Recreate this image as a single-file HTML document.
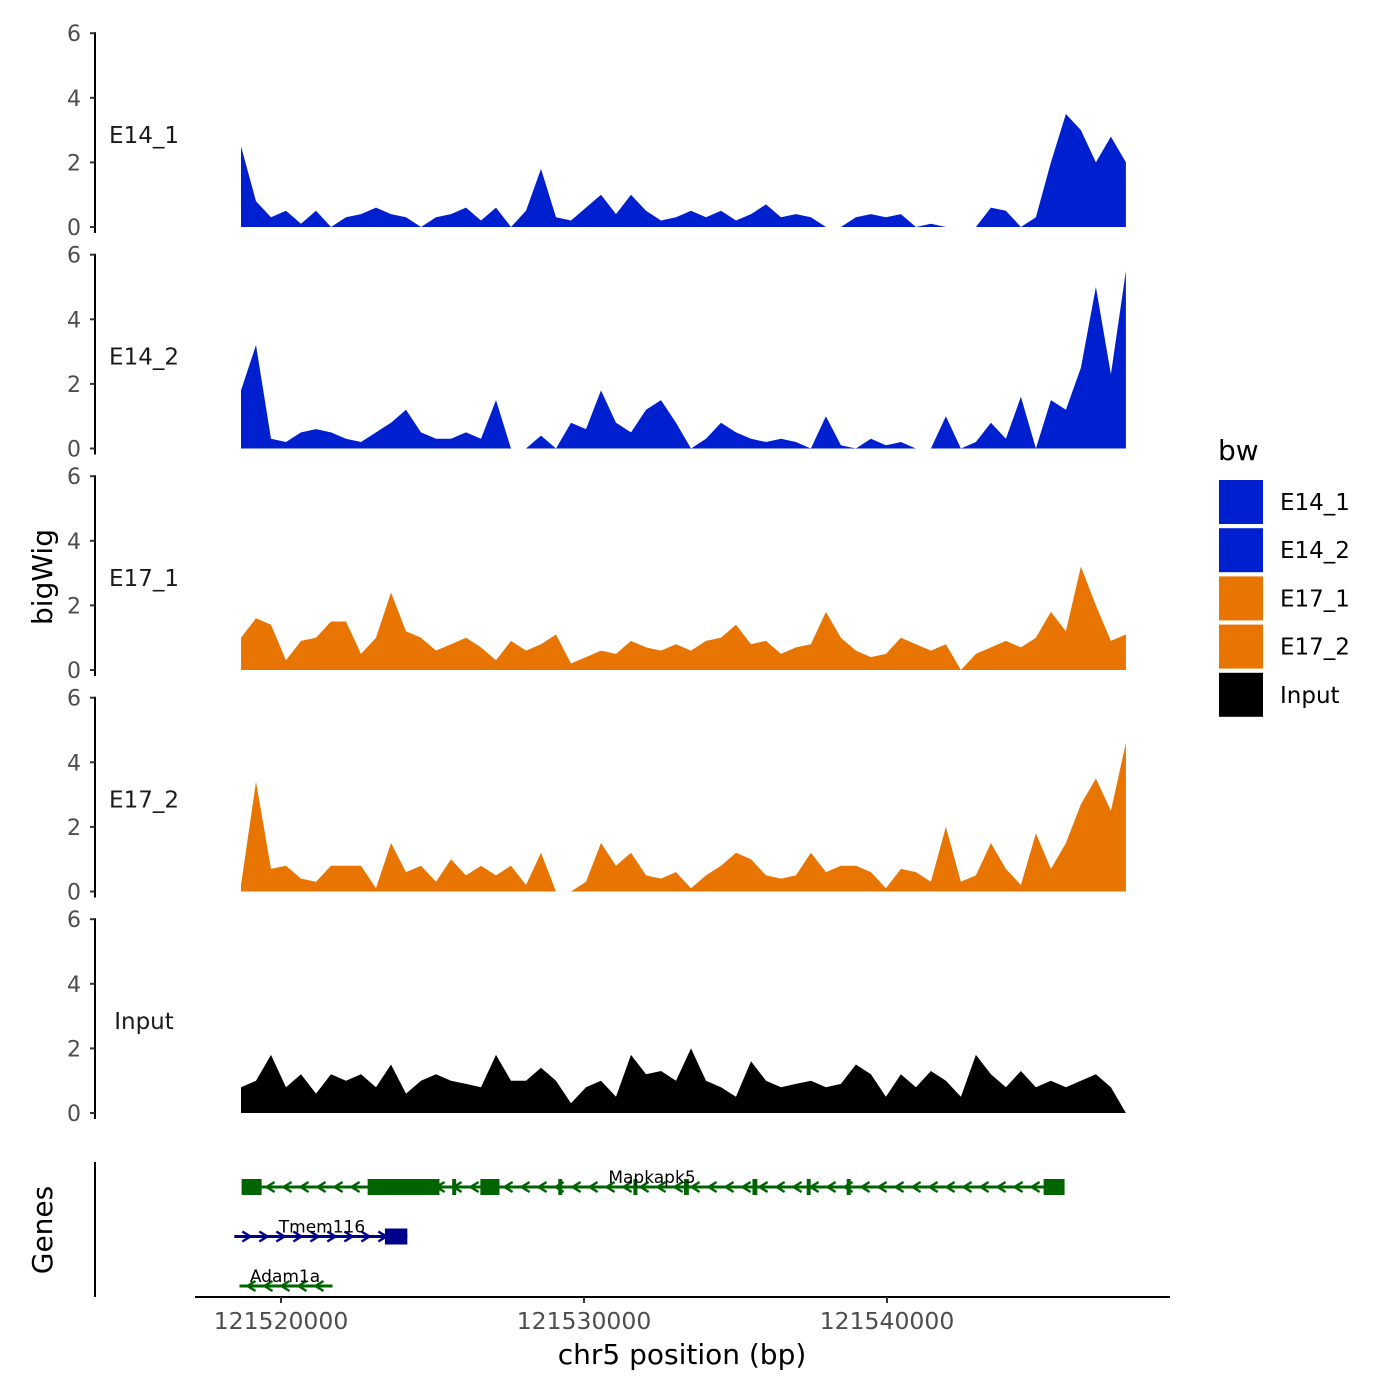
<!DOCTYPE html>
<html><head><meta charset="utf-8">
<style>
html,body{margin:0;padding:0;background:#fff;}
svg{display:block;font-family:"DejaVu Sans","Liberation Sans",sans-serif;}
</style></head>
<body>
<svg id="chart" width="1400" height="1400" viewBox="0 0 1400 1400" xmlns="http://www.w3.org/2000/svg">
<rect width="1400" height="1400" fill="#fff"/>
<g id="tracks"></g>
<g id="genes"></g>
<text x="52" y="577" font-size="28" text-anchor="middle" transform="rotate(-90 52 577)">bigWig</text>
<text x="52" y="1230" font-size="28" text-anchor="middle" transform="rotate(-90 52 1230)">Genes</text>
<line x1="95" y1="1162" x2="95" y2="1297" stroke="#000" stroke-width="2"/>
<line x1="195" y1="1297" x2="1170" y2="1297" stroke="#000" stroke-width="2"/>
<g id="xticks"></g>
<text x="682" y="1364" font-size="28" text-anchor="middle">chr5 position (bp)</text>
<g id="legend">
<text x="1218" y="460" font-size="28">bw</text>
</g>
</svg>
<script>
const trackNames = ["E14_1","E14_2","E17_1","E17_2","Input"];
const trackColors = ["#0020d0","#0020d0","#e87502","#e87502","#000000"];
const startBp = 121518680;
const stepBp = 495;
const e14_1 = [2.5,0.8,0.3,0.5,0.1,0.5,0,0.3,0.4,0.6,0.4,0.3,0,0.3,0.4,0.6,0.2,0.6,0,0.5,1.8,0.3,0.2,0.6,1.0,0.4,1.0,0.5,0.2,0.3,0.5,0.3,0.5,0.2,0.4,0.7,0.3,0.4,0.3,0,0,0.3,0.4,0.3,0.4,0,0.1,0,0,0,0.6,0.5,0,0.3,2.0,3.5,3.0,2.0,2.8,2.0];
const e14_2 = [1.8,3.2,0.3,0.2,0.5,0.6,0.5,0.3,0.2,0.5,0.8,1.2,0.5,0.3,0.3,0.5,0.3,1.5,0,0,0.4,0,0.8,0.6,1.8,0.8,0.5,1.2,1.5,0.8,0,0.3,0.8,0.5,0.3,0.2,0.3,0.2,0,1.0,0.1,0,0.3,0.1,0.2,0,0,1.0,0,0.2,0.8,0.3,1.6,0,1.5,1.2,2.5,5.0,2.3,5.5];
const e17_1 = [1.0,1.6,1.4,0.3,0.9,1.0,1.5,1.5,0.5,1.0,2.4,1.2,1.0,0.6,0.8,1.0,0.7,0.3,0.9,0.6,0.8,1.1,0.2,0.4,0.6,0.5,0.9,0.7,0.6,0.8,0.6,0.9,1.0,1.4,0.8,0.9,0.5,0.7,0.8,1.8,1.0,0.6,0.4,0.5,1.0,0.8,0.6,0.8,0,0.5,0.7,0.9,0.7,1.0,1.8,1.2,3.2,2.0,0.9,1.1];
const e17_2 = [0.2,3.4,0.7,0.8,0.4,0.3,0.8,0.8,0.8,0.1,1.5,0.6,0.8,0.3,1.0,0.5,0.8,0.5,0.8,0.2,1.2,0,0,0.3,1.5,0.8,1.2,0.5,0.4,0.6,0.1,0.5,0.8,1.2,1.0,0.5,0.4,0.5,1.2,0.6,0.8,0.8,0.6,0.1,0.7,0.6,0.3,2.0,0.3,0.5,1.5,0.7,0.2,1.8,0.7,1.5,2.7,3.5,2.5,4.6];
const input = [0.8,1.0,1.8,0.8,1.2,0.6,1.2,1.0,1.2,0.8,1.5,0.6,1.0,1.2,1.0,0.9,0.8,1.8,1.0,1.0,1.4,1.0,0.3,0.8,1.0,0.5,1.8,1.2,1.3,1.0,2.0,1.0,0.8,0.5,1.6,1.0,0.8,0.9,1.0,0.8,0.9,1.5,1.2,0.5,1.2,0.8,1.3,1.0,0.5,1.8,1.2,0.8,1.3,0.8,1.0,0.8,1.0,1.2,0.8,0];
const trackValues = [e14_1,e14_2,e17_1,e17_2,input];
const yTicks = [0,2,4,6];
const xTicks = [121520000,121530000,121540000];
const xTickLabels = ["121520000","121530000","121540000"];

const NS = "http://www.w3.org/2000/svg";
function mk(tag, attrs, parent){const e=document.createElementNS(NS,tag);for(const k in attrs)e.setAttribute(k,attrs[k]);parent.appendChild(e);return e;}
function xScale(bp){return 281 + (bp-121520000)*0.0303;}
function yScale(v, t){const zero = 227 + t*221.5;return zero - v*32.3;}

const tracksG = document.getElementById("tracks");
trackValues.forEach((vals, t) => {
  const g = mk("g", {}, tracksG);
  
  
  let d = "M" + xScale(startBp) + "," + yScale(0,t);
  vals.forEach((v,i) => { d += " L" + xScale(startBp + i*stepBp).toFixed(1) + "," + yScale(v,t).toFixed(1); });
  d += " L" + xScale(startBp + (vals.length-1)*stepBp).toFixed(1) + "," + yScale(0,t) + " Z";
  const p = mk("path", {d: d, fill: trackColors[t]}, g);
  
  
  const ax = mk("line", {x1:95, y1:yScale(6,t)-1, x2:95, y2:yScale(0,t)+6, stroke:"#000","stroke-width":2}, g);
  
  
  yTicks.forEach(tv => {
    const y = yScale(tv,t);
    const tk = mk("line", {x1:90, y1:y, x2:95, y2:y, stroke:"#333","stroke-width":2}, g);
    
    
    const lb = mk("text", {x:81, y:y+8, "font-size":22, fill:"#4d4d4d", "text-anchor":"end"}, g);
    lb.textContent = tv;
    
    
  });
  const tl = mk("text", {x:144, y:yScale(0,t)-84, "font-size":23, "text-anchor":"middle", fill:"#1a1a1a"}, g);
  tl.textContent = trackNames[t];
  
  
});

const xt = document.getElementById("xticks");
xTicks.forEach((bp,i) => {
  const x = xScale(bp);
  const l = mk("line", {x1:x, y1:1297, x2:x, y2:1303, stroke:"#333","stroke-width":2}, xt);
  
  
  const t = mk("text", {x:x, y:1329, "font-size":23.5, fill:"#4d4d4d", "text-anchor":"middle"}, xt);
  t.textContent = xTickLabels[i];
  
  
});

// Genes
const geneNames = ["Mapkapk5","Tmem116","Adam1a"];
const geneStarts = [121518700,121518460,121518630];
const geneEnds = [121545860,121524170,121521700];
const geneStrand = [-1,1,-1];
const geneColors = ["#006400","#00008b","#006400"];
const mapkExons = [[121518700,121519360],[121522860,121525230],[121526580,121527210],[121545170,121545860],[121525650,121525760],[121529150,121529230],[121531630,121531740],[121533300,121533460],[121535560,121535720],[121538670,121538760],[121537350,121537440]];
const tmemExons = [[121523430,121524170]];
const adamExons = [];
const geneExons = [mapkExons,tmemExons,adamExons];
const gg = document.getElementById("genes");
geneNames.forEach((n,i) => {
  const y = 1187 + i*49.5;
  const g = mk("g", {}, gg);
  
  
  const x1 = xScale(geneStarts[i]), x2 = xScale(geneEnds[i]);
  mk("line", {x1:x1, y1:y, x2:x2, y2:y, stroke:geneColors[i], "stroke-width":3}, g);
  for (let x = x1+12; x < x2-6; x += 17) {
    const dx = geneStrand[i] > 0 ? 4 : -4;
    mk("path", {d:`M${x-dx},${y-5} L${x+dx},${y} L${x-dx},${y+5}`, fill:"none", stroke:geneColors[i], "stroke-width":2.5}, g);
  }
  geneExons[i].forEach(ex => {
    mk("rect", {x:xScale(ex[0]), y:y-8, width:Math.max(4, xScale(ex[1])-xScale(ex[0])), height:16, fill:geneColors[i]}, g);
  });
  const lb = mk("text", {x:[652,322,285][i], y:y-4, "font-size":17, "text-anchor":"middle", fill:"#000"}, g);
  lb.textContent = n;
  
  
});

// Legend
const lg = document.getElementById("legend");
const legendColors = ["#0020d0","#0020d0","#e87502","#e87502","#000000"];
trackNames.forEach((n,i) => {
  const y = 480 + i*48.2;
  const r = mk("rect", {x:1219, y:y, width:44, height:44, fill:legendColors[i]}, lg);
  
  
  const t = mk("text", {x:1280, y:y+30, "font-size":23, fill:"#000"}, lg);
  t.textContent = n;
  
  
});
</script>
</body></html>
